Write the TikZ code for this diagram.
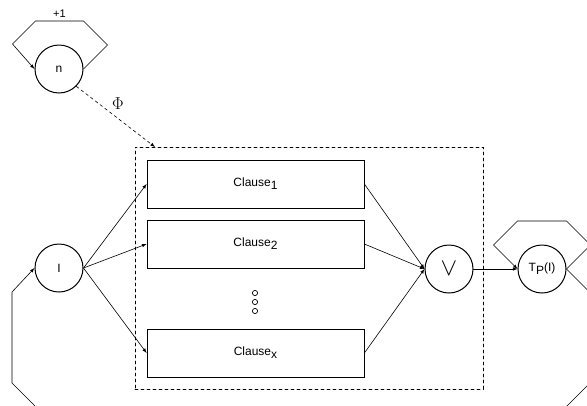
\documentclass[tikz,border=0pt]{standalone}
\usepackage{fontspec}
\setmainfont{Liberation Sans}
\usepackage{amsmath}
\usetikzlibrary{calc}
\newcommand{\lowsub}[1]{\raisebox{-3pt}{#1}}

\begin{document}
\begin{tikzpicture}[x=1pt,y=-1pt,>=latex,cap=round,
        font=\fontsize{12}{14}\selectfont,
        state/.style={draw,circle,line width=1pt,minimum size=48pt,inner sep=0pt},
        clausebox/.style={draw,rectangle,line width=0.8pt,minimum width=217pt,minimum height=48pt},
        frame/.style={draw,dashed,line width=0.7pt,minimum width=348pt,minimum height=242pt},
        link/.style={->,line width=0.6pt}]

        % fix the page and cut what runs over it
        \useasboundingbox (0,0) rectangle (587,405);
        \clip (0,0) rectangle (587,405);

        % the dashed frame round the clauses
        \node[frame] (frame) at (309,268) {};
        \coordinate (phiend) at (155,147);

        % the circles
        \node[state] (n) at (59,69) {n};
        \node[state] (I) at (59,268) {I};
        \node[state] (or) at (449,269) {\fontsize{24}{24}\selectfont$\vee$};
        \node[state] (tp) at (542,269) {T\lowsub{P}(I)};

        % the clauses
        \node[clausebox] (c1) at (255.5,184) {Clause\lowsub{1}};
        \node[clausebox] (c2) at (255.5,244) {Clause\lowsub{2}};
        \node[clausebox] (cx) at (255.5,353) {Clause\lowsub{x}};

        % dots between the clauses
        \foreach \y in {293,302,311} {
                \draw[line width=0.7pt] (255,\y) circle (2.6pt);
        }

        % from I through the clauses to the or
        \foreach \c in {c1,c2,cx} {
                \draw[link] (I.east) -- (\c.west);
                \draw[link] (\c.east) -- (or.west);
        }
        \draw[link] (or.east) -- (tp.west);

        % the mapping from n
        \draw[link,dashed] (n.-45) -- (phiend);
        \node (phi) at (118,104) {\fontsize{16}{16}\selectfont$\Phi$};

        % loops
        \draw[link] (n.east) -- ++(24,-24) -- ++(-24,-24)
                -- node[above] {\fontsize{11}{11}\selectfont +1} ++(-48,0) -- ++(-23,23) -- (n.west);
        \draw[link] (tp.east) -- ++(24,-24) -- ++(-24,-24) -- ++(-49,0) -- ++(-24,24) -- (tp.west);
        \draw[link] (tp.east) -- ++(24,24) -- (590,383) -- (546,427)
                -- (56,427) -- (12,383) -- (12,292) -- (I.west);
\end{tikzpicture}
\end{document}
